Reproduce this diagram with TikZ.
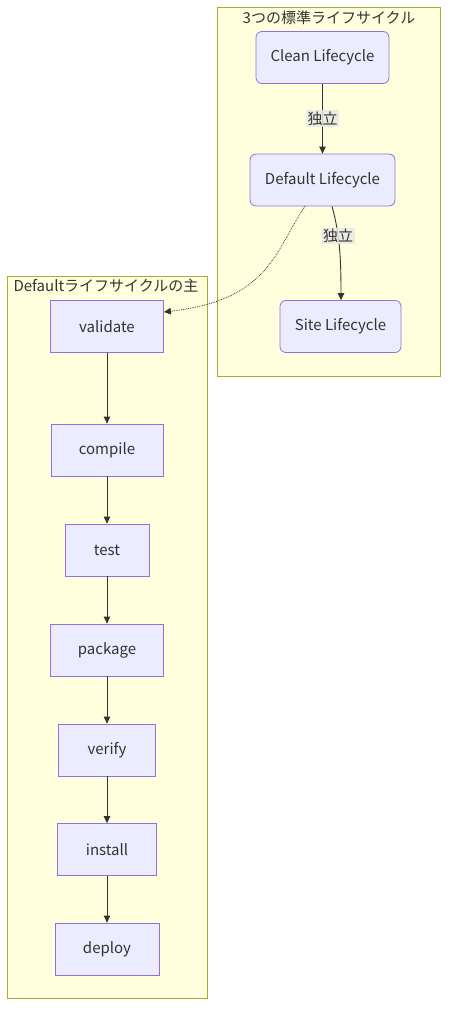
\documentclass[tikz,border=0pt]{standalone}
\usepackage{fontspec}
\setmainfont{Noto Sans CJK JP}
\usetikzlibrary{arrows.meta,positioning}
\definecolor{nodefill}{HTML}{ECECFF}
\definecolor{nodeline}{HTML}{9370DB}
\definecolor{clusterfill}{HTML}{FFFFDE}
\definecolor{clusterline}{HTML}{AAAA33}
\definecolor{edgecol}{HTML}{333333}
\definecolor{lblbg}{HTML}{E8E8E8}
\begin{document}
\begin{tikzpicture}[x=1pt,y=-1pt,
  every node/.style={text=edgecol, font=\fontsize{15}{17}\selectfont},
  cluster/.style={draw=clusterline, fill=clusterfill, line width=0.8pt},
  phase/.style={draw=nodeline, fill=nodefill, line width=0.8pt, minimum height=52pt, inner sep=0pt},
  lcycle/.style={phase, rounded corners=6pt},
  conn/.style={draw=edgecol, line width=0.9pt, -{Triangle[length=7pt,width=6.5pt]}},
  elabel/.style={fill=lblbg, fill opacity=0.85, text opacity=1, inner sep=1.5pt},
]
\useasboundingbox (0,0) rectangle (456,1024);
\fill[white] (0,0) rectangle (456,1024);
% clusters
\draw[cluster] (217,7) rectangle (440,376);
\node (t1) at (329,18) {3つの標準ライフサイクル};
\draw[cluster] (7,276) rectangle (207,998);
\node[align=center, anchor=north, inner sep=0pt, font=\fontsize{15}{23}\selectfont] (t2) at (106,279) {Defaultライフサイクルの主\\要フェーズ};
% top nodes
\node[lcycle, minimum width=133pt] (clean) at (322.5,57.5) {Clean Lifecycle};
\node[lcycle, minimum width=145pt] (def) at (322.5,180) {Default Lifecycle};
\node[lcycle, minimum width=121pt] (site) at (340.5,326.5) {Site Lifecycle};
% left nodes
\node[phase, minimum width=113pt] (validate) at (107,326.5) {validate};
\node[phase, minimum width=112pt] (compile) at (107,450) {compile};
\node[phase, minimum width=84pt] (test) at (107,550) {test};
\node[phase, minimum width=113pt] (package) at (107,650) {package};
\node[phase, minimum width=97pt] (verify) at (107,750) {verify};
\node[phase, minimum width=99pt] (install) at (107,849.5) {install};
\node[phase, minimum width=104pt] (deploy) at (107,949) {deploy};
% top edges
\draw[conn] (clean) -- node[elabel] {独立} (def);
\draw[conn] (def.south -| 332,0) .. controls (340,235) and (341,260) .. node[elabel, pos=0.35] {独立} (site.north -| 341,0);
\draw[edgecol, line width=0.8pt, densely dotted, -{Triangle[length=7pt,width=6.5pt]}] (def.south -| 305,0) .. controls (275,250) and (270,300) .. (validate.north east |- 0,312);
% left edges
\draw[conn] (validate) -- (compile);
\draw[conn] (compile) -- (test);
\draw[conn] (test) -- (package);
\draw[conn] (package) -- (verify);
\draw[conn] (verify) -- (install);
\draw[conn] (install) -- (deploy);
\end{tikzpicture}
\end{document}
